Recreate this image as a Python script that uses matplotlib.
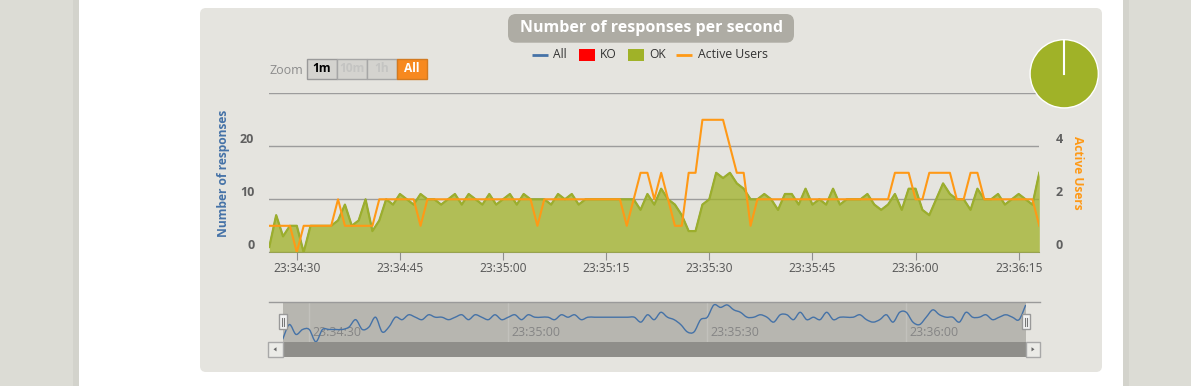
import numpy as np
import pandas as pd
import matplotlib
matplotlib.use("Agg")
import matplotlib.pyplot as plt
import matplotlib.dates as mdates
from matplotlib.patches import Rectangle, FancyBboxPatch, Polygon, PathPatch
from matplotlib.path import Path
from matplotlib.transforms import blended_transform_factory, offset_copy

plt.rcParams['font.family'] = ['Open Sans', 'DejaVu Sans']

# --- data (one value per second) ---
start = "2020-01-01 23:34:26"
ok = [1, 7, 3, 5, 5, 0, 5, 5, 5, 5,
      6, 9, 5, 6, 10, 4, 6, 10, 9, 11,
      10, 9, 11, 10, 10, 9, 10, 11, 9, 11,
      10, 9, 11, 9, 10, 11, 9, 11, 10, 10,
      10, 9, 11, 10, 11, 9, 10, 10, 10, 10,
      10, 10, 10, 10, 8, 11, 9, 12, 10, 9,
      7, 4, 4, 9, 10, 15, 14, 15, 13, 12,
      10, 10, 11, 10, 8, 11, 11, 9, 12, 9,
      10, 9, 12, 9, 10, 10, 10, 11, 9, 8,
      9, 11, 8, 12, 12, 8, 7, 10, 13, 11,
      10, 10, 8, 12, 10, 10, 11, 9, 10, 11,
      10, 9, 15]
ko = [0] * len(ok)  # no failed responses in this run
users = [1, 1, 1, 1, 0, 1, 1, 1, 1, 1,
         2, 1, 1, 1, 1, 1, 2, 2, 2, 2,
         2, 2, 1, 2, 2, 2, 2, 2, 2, 2,
         2, 2, 2, 2, 2, 2, 2, 2, 2, 1,
         2, 2, 2, 2, 2, 2, 2, 2, 2, 2,
         2, 2, 1, 2, 3, 3, 2, 3, 2, 1,
         1, 3, 3, 5, 5, 5, 5, 4, 3, 3,
         1, 2, 2, 2, 2, 2, 2, 2, 2, 2,
         2, 2, 2, 2, 2, 2, 2, 2, 2, 2,
         2, 3, 3, 3, 2, 2, 3, 3, 3, 3,
         2, 2, 3, 3, 2, 2, 2, 2, 2, 2,
         2, 2, 1]
left_ticks = [0, 10, 20, 30]
right_ticks = [0, 2, 4, 6]
legend_labels = ["All", "KO", "OK", "Active Users"]
zoom_buttons = ["1m", "10m", "1h", "All"]

times = pd.date_range(start, periods=len(ok), freq="s")
tnum = mdates.date2num(times.to_pydatetime())
all_ = np.array(ok) + np.array(ko)

C_ALL = '#4572A7'
C_KO = '#FF0000'
C_OK = '#A0B228'
C_USERS = '#FF9916'

W, H = 1191, 386


def fs(px):
    return px * 0.72


def rect(x0, y0, x1, y1):
    return [x0 / W, 1 - y1 / H, (x1 - x0) / W, (y1 - y0) / H]


def spline_path(x, y):
    # smooth curve through the points (catmull-rom as bezier segments)
    x = np.asarray(x, float)
    y = np.asarray(y, float)
    xp = np.r_[x[0], x, x[-1]]
    yp = np.r_[y[0], y, y[-1]]
    verts = [(x[0], y[0])]
    codes = [Path.MOVETO]
    for i in range(len(x) - 1):
        c1 = (x[i] + (xp[i + 2] - xp[i]) / 6, y[i] + (yp[i + 2] - yp[i]) / 6)
        c2 = (x[i + 1] - (xp[i + 3] - xp[i + 1]) / 6, y[i + 1] - (yp[i + 3] - yp[i + 1]) / 6)
        verts += [c1, c2, (x[i + 1], y[i + 1])]
        codes += [Path.CURVE4] * 3
    return Path(verts, codes)


fig = plt.figure(figsize=(W / 100, H / 100), dpi=100)
fig.patch.set_facecolor('white')

# background layer in pixel coords
bg = fig.add_axes([0, 0, 1, 1], zorder=0)
bg.set_xlim(0, W)
bg.set_ylim(H, 0)
bg.axis('off')

bg.add_patch(Rectangle((0, 0), 79, H, color='#DCDCD5', lw=0))
bg.add_patch(Rectangle((73, 0), 6, H, color='#D3D3CC', lw=0))
bg.add_patch(Rectangle((1123, 0), W - 1123, H, color='#DCDCD5', lw=0))
bg.add_patch(Rectangle((1123, 0), 6, H, color='#D3D3CC', lw=0))
bg.add_patch(FancyBboxPatch((206, 14), 890, 352, boxstyle="round,pad=6",
                            fc='#E5E4DF', ec='none'))

# title
bg.add_patch(FancyBboxPatch((516, 22), 270, 12.7, boxstyle="round,pad=8",
                            fc='#AEACA4', ec='none'))
bg.text(651, 28.5, "Number of responses per second", ha='center', va='center',
        fontsize=fs(16), fontweight='bold', color='white')

# legend
bg.plot([532, 548], [55, 55], color=C_ALL, lw=2, solid_capstyle='butt')
bg.text(553, 55, legend_labels[0], va='center', fontsize=fs(12), color='#333333')
bg.add_patch(Rectangle((579, 49), 16, 12, fc=C_KO, lw=0))
bg.text(600, 55, legend_labels[1], va='center', fontsize=fs(12), color='#333333')
bg.add_patch(Rectangle((628.3, 49), 15.7, 12, fc=C_OK, lw=0))
bg.text(649, 55, legend_labels[2], va='center', fontsize=fs(12), color='#333333')
bg.plot([676, 692], [55, 55], color=C_USERS, lw=2, solid_capstyle='butt')
bg.text(698, 55, legend_labels[3], va='center', fontsize=fs(12.2), color='#333333')

# range selector buttons
bg.text(269, 70, "Zoom", va='center', ha='left', fontsize=fs(12.5), color='#8C8C8C')
edges = [306.7, 336.7, 366.7, 396.7, 427.3]
for i, lab in enumerate(zoom_buttons):
    if lab == "All":
        fc, ec, tc = '#F7891F', '#D27A22', 'white'
    elif i == 0:
        fc, ec, tc = '#D4D3CF', '#9A9A9A', 'black'
    else:
        fc, ec, tc = '#D4D3CF', '#A6A6A6', '#C4C4C2'
    bg.add_patch(Rectangle((edges[i], 58.7), edges[i + 1] - edges[i], 20.6,
                           fc=fc, ec=ec, lw=1))
    bg.text((edges[i] + edges[i + 1]) / 2, 69, lab, ha='center', va='center',
            fontsize=fs(12), fontweight='bold', color=tc)

# axis titles
bg.text(224, 173, "Number of responses", rotation=90, ha='center', va='center',
        fontsize=fs(12), fontweight='bold', color=C_ALL)
bg.text(1077, 173, "Active Users", rotation=270, ha='center', va='center',
        fontsize=fs(12), fontweight='bold', color=C_USERS)

# main chart
ax = fig.add_axes(rect(269.3, 93.3, 1039.3, 252.3), zorder=2)
ax.patch.set_visible(False)
ax.set_xlim(tnum[0], tnum[-1])
ax.set_ylim(left_ticks[0], left_ticks[-1])
ax.set_yticks(left_ticks)
ax.set_yticklabels([str(v) for v in left_ticks[:-1]] + [''])
ax.grid(axis='y', color='#9C9C9C', lw=1)
ax.set_axisbelow(True)
for s in ['top', 'left', 'right']:
    ax.spines[s].set_visible(False)
ax.spines['bottom'].set_color('#8E8E8E')
ax.xaxis.set_major_locator(mdates.SecondLocator(bysecond=[0, 15, 30, 45]))
ax.xaxis.set_major_formatter(mdates.DateFormatter('%H:%M:%S'))
ax.tick_params(axis='x', length=fs(8), color='#8E8E8E', labelsize=fs(12),
               labelcolor='#555555', pad=fs(2))
ax.tick_params(axis='y', length=0, labelsize=fs(12.5), labelcolor='#606060', pad=fs(15))
for lab in ax.get_yticklabels():
    lab.set_fontweight('bold')
    lab.set_verticalalignment('bottom')

ax.plot(tnum, all_, color=C_ALL, lw=1, zorder=2)
ax.fill_between(tnum, ok, color=C_OK, alpha=0.75, lw=0, zorder=3)
ax.plot(tnum, ok, color='#9CAE2C', lw=1.6, zorder=4)

tw = ax.twinx()
tw.set_zorder(3)
tw.patch.set_visible(False)
tw.set_ylim(right_ticks[0], right_ticks[-1])
tw.set_yticks(right_ticks)
tw.set_yticklabels([str(v) for v in right_ticks[:-1]] + [''])
for s in tw.spines.values():
    s.set_visible(False)
tw.tick_params(axis='y', length=0, labelsize=fs(12.5), labelcolor='#606060', pad=fs(16))
for lab in tw.get_yticklabels():
    lab.set_fontweight('bold')
    lab.set_verticalalignment('bottom')
tw.plot(tnum, users, color=C_USERS, lw=1.5)

# navigator
nav = fig.add_axes(rect(282.7, 302, 1025.7, 342), zorder=2)
nav.set_facecolor('#B7B6B0')
nav.set_xlim(tnum[0], tnum[-1])
nav.set_ylim(-0.1, 16.2)
nav.xaxis.set_major_locator(mdates.SecondLocator(bysecond=[0, 30]))
for s in nav.spines.values():
    s.set_visible(False)
nav.tick_params(length=0, labelbottom=False, labelleft=False)
nav.set_yticks([])
lab_tr = offset_copy(blended_transform_factory(nav.transData, nav.transAxes),
                     fig=fig, x=3, y=0, units='dots')
for v in nav.get_xticks():
    if tnum[0] <= v <= tnum[-1]:
        nav.axvline(v, color='#C2C1BC', lw=1, zorder=1)
        nav.text(v, 0.225, mdates.num2date(v).strftime('%H:%M:%S'), transform=lab_tr,
                 ha='left', va='center', fontsize=fs(12.5), color='#858585', zorder=2)
nav.add_patch(PathPatch(spline_path(tnum, all_), fc='none', ec=C_ALL, lw=1, zorder=3))

# overlay: navigator frame, scrollbar, handles
fg = fig.add_axes([0, 0, 1, 1], zorder=5)
fg.set_xlim(0, W)
fg.set_ylim(H, 0)
fg.axis('off')
fg.patch.set_visible(False)
fg.plot([269, 1040], [302, 302], color='#9A9A9A', lw=1)
fg.add_patch(Rectangle((282.7, 342), 743, 14.7, fc='#8F8E8A', lw=0))
for x0, pts in [(268.3, [(273.5, 349.3), (276.5, 347.2), (276.5, 351.4)]),
                (1025.7, [(1034.5, 349.3), (1031.5, 347.2), (1031.5, 351.4)])]:
    fg.add_patch(Rectangle((x0, 342), 14.4, 14.7, fc='#EBEBE7', ec='#A8A8A8', lw=1))
    fg.add_patch(Polygon(pts, closed=True, fc='#666666', lw=0))
for cx in [282.7, 1025.7]:
    fg.add_patch(Rectangle((cx - 4.2, 314), 8.4, 15.3, fc='#F4F4F4', ec='#999999', lw=1))
    fg.plot([cx - 1.2, cx - 1.2], [318, 326], color='#777777', lw=0.8)
    fg.plot([cx + 1.2, cx + 1.2], [318, 326], color='#777777', lw=0.8)

# pie of OK / KO totals
pax = fig.add_axes(rect(1029.3, 39, 1099.1, 108.6), zorder=4)
pax.pie([sum(ok), sum(ko)], colors=[C_OK, C_KO], startangle=90, counterclock=False,
        wedgeprops=dict(ec='white', lw=1))
pax.plot([0, 0], [0, 1], color='white', lw=1.5)
pax.set_xlim(-1.02, 1.02)
pax.set_ylim(-1.02, 1.02)

fig.savefig("out.png", dpi=100, facecolor=fig.get_facecolor())
